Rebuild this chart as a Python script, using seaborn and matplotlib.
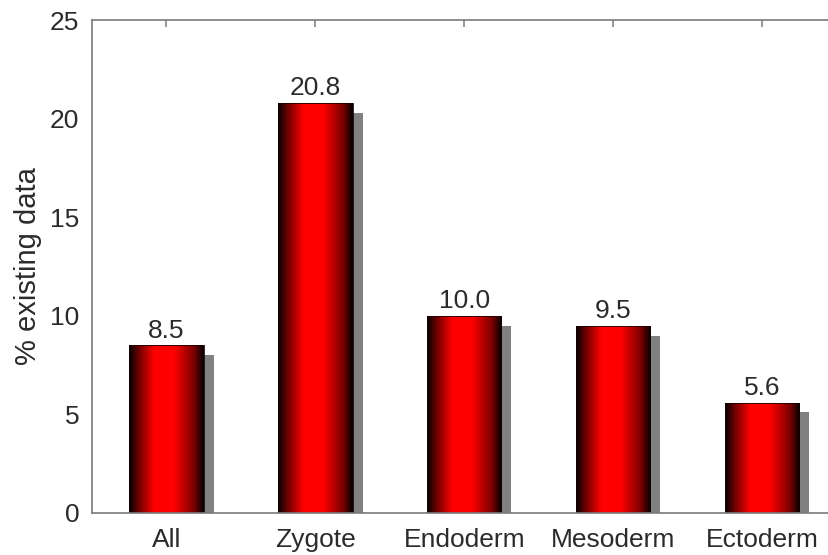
import numpy as np
import pandas as pd
import matplotlib
matplotlib.use("Agg")
import matplotlib.pyplot as plt
from matplotlib.colors import LinearSegmentedColormap
from matplotlib.patches import Rectangle
import seaborn as sns

# Share of existing data per germ-layer group
categories = ["All", "Zygote", "Endoderm", "Mesoderm", "Ectoderm"]
values = [8.5, 20.8, 10.0, 9.5, 5.6]
value_labels = ["8.5", "20.8", "10.0", "9.5", "5.6"]
y_ticks = [0, 5, 10, 15, 20, 25]

df = pd.DataFrame({"group": categories, "pct": values})

sns.set_style("white")
plt.rcParams["font.family"] = ["Liberation Sans", "DejaVu Sans"]
text_color = "#2b2b2b"
spine_color = "#7a7a7a"
fs = 19

fig = plt.figure(figsize=(8.29, 5.55), dpi=100)
ax = fig.add_axes([92 / 829, 42 / 555, 744.5 / 829, 493 / 555])

sns.barplot(data=df, x="group", y="pct", order=categories, width=0.5,
            color="red", ax=ax, zorder=3, errorbar=None)

# horizontal shading: dark edges, bright red core
shade = LinearSegmentedColormap.from_list(
    "bar_shade",
    [(0.0, "#000000"), (0.12, "#680000"), (0.34, "#ff0000"),
     (0.6, "#ff0000"), (0.87, "#7a0000"), (1.0, "#000000")])
grad = np.linspace(0, 1, 256).reshape(1, -1)

shadow_dx = 0.067
shadow_drop = 0.5
for patch in list(ax.patches):
    x0, y0 = patch.get_x(), patch.get_y()
    w, h = patch.get_width(), patch.get_height()
    # drop shadow behind each bar
    ax.add_patch(Rectangle((x0 + shadow_dx, y0), w, h - shadow_drop,
                           facecolor="#808080", edgecolor="none", zorder=2))
    im = ax.imshow(grad, cmap=shade, aspect="auto",
                   extent=(x0, x0 + w, y0, y0 + h), zorder=3.5,
                   interpolation="bicubic")
    im.set_clip_path(patch)
    patch.set_facecolor("none")
    patch.set_edgecolor("#1a0000")
    patch.set_linewidth(0.6)
    patch.set_zorder(4)

for i, (v, lab) in enumerate(zip(values, value_labels)):
    ax.annotate(lab, xy=(i, v), xytext=(0, 5.5), textcoords="offset points",
                ha="center", va="baseline", fontsize=fs, color=text_color,
                zorder=5)

ax.set_xlim(-0.5, len(categories) - 0.5)
ax.set_ylim(0, 25)
ax.set_yticks(y_ticks)
ax.set_yticklabels([str(t) for t in y_ticks])
ax.set_xlabel("")
ax.set_ylabel("% existing data", fontsize=21, color=text_color, labelpad=6)

ax.tick_params(axis="both", which="both", direction="in", length=5,
               width=1.1, color=spine_color, labelsize=fs,
               labelcolor=text_color, top=True, right=True)
ax.tick_params(axis="x", pad=24.5, bottom=False)
ax.tick_params(axis="y", pad=9)
for lab in ax.get_xticklabels():
    lab.set_verticalalignment("baseline")

for side in ["left", "right", "top", "bottom"]:
    ax.spines[side].set_visible(True)
    ax.spines[side].set_color(spine_color)
    ax.spines[side].set_linewidth(1.2)
    ax.spines[side].set_zorder(6)

fig.savefig("out.png", dpi=100)
